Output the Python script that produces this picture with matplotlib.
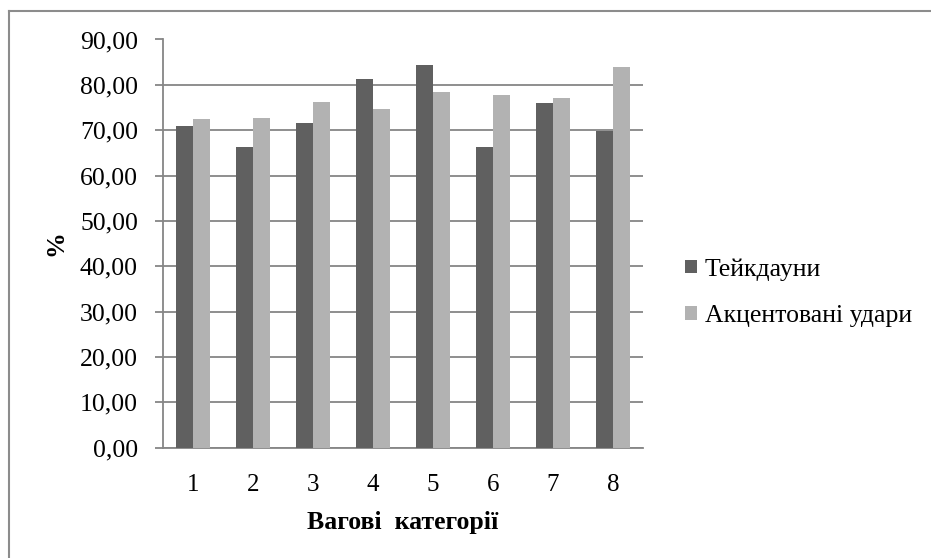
import numpy as np
import matplotlib
matplotlib.use("Agg")
import matplotlib.pyplot as plt
from matplotlib.lines import Line2D

# data
categories = ["1", "2", "3", "4", "5", "6", "7", "8"]
takedowns = [71.0, 66.2, 71.5, 81.2, 84.3, 66.2, 75.9, 69.9]
accent_hits = [72.4, 72.8, 76.3, 74.6, 78.5, 77.7, 77.2, 83.9]
series_names = ["Тейкдауни", "Акцентовані удари"]
yticks = [0, 10, 20, 30, 40, 50, 60, 70, 80, 90]

plt.rcParams['font.family'] = ['Liberation Serif', 'DejaVu Serif']

fig = plt.figure(figsize=(9.31, 5.58), dpi=100)
ax = fig.add_axes([163 / 931, 1 - 447.7 / 558, 480 / 931, (447.7 - 39.5) / 558])

x = np.arange(len(categories))
w = 0.29
ax.bar(x - w / 2, takedowns, w, color='#606060', label=series_names[0], zorder=3)
ax.bar(x + w / 2, accent_hits, w, color='#b2b2b2', label=series_names[1], zorder=3)

ax.set_xlim(-0.5, len(categories) - 0.5)
ax.set_ylim(0, 90)
ax.set_yticks(yticks)
ax.yaxis.set_major_formatter(matplotlib.ticker.FuncFormatter(lambda v, p: ("%.2f" % v).replace(".", ",")))
ax.set_xticks(x)
ax.set_xticklabels(categories)

ax.grid(axis='y', color='#868686', linewidth=1.3, zorder=0)
for s in ['top', 'right']:
    ax.spines[s].set_visible(False)
ax.spines['left'].set_color('#868686')
ax.spines['bottom'].set_color('#868686')
ax.spines['left'].set_linewidth(1.3)
ax.spines['bottom'].set_linewidth(1.3)
ax.tick_params(axis='y', length=6, width=1.3, color='#868686', labelsize=18.5, pad=12)
ax.tick_params(axis='x', length=0, labelsize=18, pad=19)

ax.set_xlabel("Вагові  категорії", fontsize=18.5, fontweight='bold', labelpad=11)
ax.set_ylabel("%", fontsize=18.5, fontweight='bold', labelpad=9)

leg = ax.legend(loc='center left', bbox_to_anchor=(1.04, 0.38), frameon=False,
                fontsize=18.5, handlelength=0.45, handleheight=0.45, handletextpad=0.3,
                labelspacing=0.95)

# outer chart frame (only left and top show in the picture)
fig.add_artist(Line2D([9 / 931, 9 / 931], [0, 1 - 11 / 558], color='#8c8c8c', lw=1.5))
fig.add_artist(Line2D([9 / 931, 1], [1 - 11 / 558, 1 - 11 / 558], color='#8c8c8c', lw=1.5))

fig.savefig("out.png", dpi=100)
